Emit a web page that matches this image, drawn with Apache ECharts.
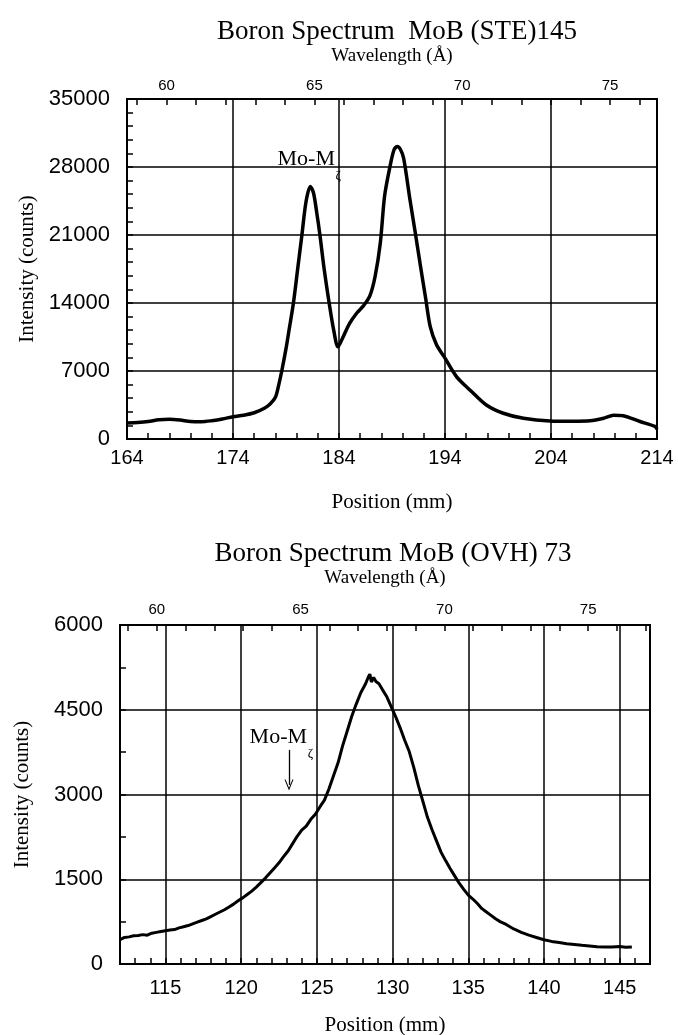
<!DOCTYPE html>
<html>
<head>
<meta charset="utf-8">
<title>Boron Spectrum MoB</title>
<script src="https://cdn.jsdelivr.net/npm/echarts@6/dist/echarts.min.js"></script>
<style>
	html, body { margin: 0; padding: 0; background: #fff; }
	#boronChart { width: 678px; height: 1035px; }
</style>
</head>
<body>
<div id="boronChart"></div>
<script>
// MoB (STE)145 - position (mm) / intensity (counts)
var stePos = [164, 165, 166, 167, 168, 169, 170, 171, 172, 173, 174, 175, 176, 177, 177.5, 178, 178.3, 178.6, 179, 179.3, 179.7, 180.1, 180.5, 180.9, 181.3, 181.6, 181.9, 182.2, 182.6, 183.1, 183.5, 183.9, 184.3, 185, 185.7, 186.3, 186.9, 187.4, 187.9, 188.3, 188.8, 189.2, 189.5, 189.8, 190.1, 190.7, 191.2, 191.7, 192.2, 192.6, 193.2, 193.9, 195.1, 196.4, 197.9, 199.5, 201.4, 203.9, 206, 207.7, 209, 209.9, 210.8, 212.4, 213.8, 214];
var steCounts = [1650, 1700, 1800, 1980, 2030, 1950, 1800, 1780, 1880, 2050, 2300, 2450, 2700, 3200, 3600, 4300, 5500, 7000, 9300, 11300, 14000, 17500, 21000, 24500, 26000, 25300, 23300, 21000, 17500, 13800, 11200, 9500, 10300, 11900, 13000, 13700, 14700, 16700, 20200, 25000, 28000, 29800, 30100, 29800, 28900, 24600, 21200, 17700, 14300, 11600, 9700, 8500, 6400, 5000, 3500, 2650, 2130, 1850, 1820, 1870, 2150, 2450, 2400, 1800, 1300, 1000];

// MoB (OVH) 73
var ovhPos = [112, 112.3, 112.6, 112.9, 113.2, 113.5, 113.8, 114.1, 114.4, 114.7, 115, 115.3, 115.6, 115.9, 116.2, 116.5, 116.8, 117.1, 117.4, 117.7, 118, 118.3, 118.6, 118.9, 119.2, 119.5, 119.8, 120.1, 120.4, 120.7, 121, 121.3, 121.6, 121.9, 122.2, 122.5, 122.8, 123.1, 123.4, 123.7, 124, 124.3, 124.6, 124.9, 125.2, 125.5, 125.8, 126.1, 126.4, 126.7, 127, 127.3, 127.6, 127.9, 128.2, 128.4, 128.5, 128.6, 128.75, 128.9, 129.1, 129.3, 129.6, 129.9, 130.2, 130.5, 130.8, 131.1, 131.4, 131.7, 132, 132.3, 132.6, 132.9, 133.2, 133.5, 133.8, 134.1, 134.4, 134.7, 135, 135.3, 135.6, 135.9, 136.2, 136.5, 136.8, 137.1, 137.5, 138, 138.5, 139, 139.5, 140, 140.5, 141, 141.5, 142, 142.5, 143, 143.5, 144, 144.5, 145, 145.4, 145.8];
var ovhCounts = [430, 470, 480, 500, 505, 520, 510, 545, 560, 575, 590, 600, 610, 640, 660, 680, 710, 740, 770, 800, 840, 880, 920, 960, 1010, 1060, 1120, 1170, 1230, 1290, 1360, 1440, 1520, 1610, 1700, 1790, 1900, 2000, 2130, 2260, 2370, 2440, 2560, 2650, 2780, 2900, 3100, 3330, 3560, 3860, 4120, 4380, 4600, 4800, 4950, 5080, 5130, 4990, 5070, 5000, 4960, 4870, 4740, 4560, 4380, 4180, 3960, 3760, 3480, 3160, 2880, 2600, 2380, 2180, 1980, 1830, 1690, 1560, 1430, 1320, 1220, 1150, 1070, 980, 920, 860, 800, 750, 700, 620, 560, 510, 470, 430, 400, 380, 360, 345, 330, 320, 305, 300, 300, 310, 295, 300];

// tick labels
var stePosTicks = [164, 174, 184, 194, 204, 214];
var ovhPosTicks = [115, 120, 125, 130, 135, 140, 145];
var waveLabels = [60, 65, 70, 75];
var steWaveTicks = [59, 60, 61, 62, 63, 64, 65, 66, 67, 68, 69, 70, 71, 72, 73, 74, 75, 76];
var ovhWaveTicks = [59, 60, 61, 62, 63, 64, 65, 66, 67, 68, 69, 70, 71, 72, 73, 74, 75, 76, 77];

var SANS = "'Liberation Sans', Arial, sans-serif";
var SERIF = "'Liberation Serif', 'Times New Roman', serif";

function makeData(pos, counts) {
	var arr = [];
	for (var i = 0; i < pos.length; i++) {
		arr.push([pos[i], counts[i]]);
	}
	return arr;
}

function plain(v) {
	return String(v);
}

function posAxis(grid, min, max, ticks, margin, gap) {
	return {
		type: 'value', gridIndex: grid, position: 'bottom', min: min, max: max,
		axisLine: { show: true, onZero: false, lineStyle: { color: '#000', width: 2 } },
		axisTick: { show: false, customValues: ticks },
		axisLabel: { customValues: ticks, formatter: plain, color: '#000', fontFamily: SANS, fontSize: 20, margin: margin },
		splitLine: { show: true, lineStyle: { color: '#000', width: 1.5 } },
		name: 'Position (mm)', nameLocation: 'middle', nameGap: gap,
		nameTextStyle: { color: '#000', fontFamily: SERIF, fontSize: 21 }
	};
}

function minorAxis(grid, min, max, step) {
	return {
		type: 'value', gridIndex: grid, position: 'bottom', min: min, max: max, interval: step,
		axisLine: { show: false, onZero: false },
		axisTick: { show: true, inside: true, length: 6, lineStyle: { color: '#000', width: 1.5 } },
		axisLabel: { show: false },
		splitLine: { show: false }
	};
}

function waveAxis(grid, min, max, ticks, margin, gap) {
	return {
		type: 'value', gridIndex: grid, position: 'top', min: min, max: max,
		axisLine: { show: true, onZero: false, lineStyle: { color: '#000', width: 2 } },
		axisTick: { show: true, inside: true, length: 6, customValues: ticks, lineStyle: { color: '#000', width: 1.5 } },
		axisLabel: { customValues: waveLabels, formatter: plain, color: '#000', fontFamily: SANS, fontSize: 15, margin: margin },
		splitLine: { show: false },
		name: 'Wavelength (Å)', nameLocation: 'middle', nameGap: gap,
		nameTextStyle: { color: '#000', fontFamily: SERIF, fontSize: 19 }
	};
}

function countAxis(grid, max, step, minorSplit, gap) {
	return {
		type: 'value', gridIndex: grid, min: 0, max: max, interval: step,
		axisLine: { show: true, lineStyle: { color: '#000', width: 2 } },
		axisTick: { show: true, inside: true, length: 6, lineStyle: { color: '#000', width: 1.5 } },
		minorTick: { show: true, splitNumber: minorSplit, length: 6, lineStyle: { color: '#000', width: 1.5 } },
		axisLabel: { formatter: plain, color: '#000', fontFamily: SANS, fontSize: 22, margin: 17 },
		splitLine: { show: true, lineStyle: { color: '#000', width: 1.5 } },
		name: 'Intensity (counts)', nameLocation: 'middle', nameGap: gap,
		nameTextStyle: { color: '#000', fontFamily: SERIF, fontSize: 21 }
	};
}

function moLabel(x, y, xs, ys) {
	return [
		{ coord: [x, y], label: { show: true, formatter: 'Mo-M', position: [0, 0], align: 'right', verticalAlign: 'bottom',
			color: '#000', fontFamily: SERIF, fontSize: 22 } },
		{ coord: [xs, ys], label: { show: true, formatter: 'ζ', position: [0, 0], align: 'left', verticalAlign: 'middle',
			color: '#000', fontFamily: SERIF, fontSize: 13 } }
	];
}

var chart = echarts.init(document.getElementById('boronChart'), null, { renderer: 'canvas' });

chart.setOption({
	animation: false,
	backgroundColor: '#fff',
	title: [
		{ text: 'Boron Spectrum  MoB (STE)145', left: 392, top: 13, textAlign: 'center',
		  textStyle: { color: '#000', fontFamily: SERIF, fontWeight: 'normal', fontSize: 27 } },
		{ text: 'Boron Spectrum MoB (OVH) 73', left: 388, top: 535, textAlign: 'center',
		  textStyle: { color: '#000', fontFamily: SERIF, fontWeight: 'normal', fontSize: 27 } }
	],
	grid: [
		{ left: 127, top: 99, width: 530, height: 340, show: true, borderColor: '#000', borderWidth: 2, outerBoundsMode: 'none' },
		{ left: 120, top: 625, width: 530, height: 339, show: true, borderColor: '#000', borderWidth: 2, outerBoundsMode: 'none' }
	],
	xAxis: [
		posAxis(0, 164, 214, stePosTicks, 9, 53),
		minorAxis(0, 164, 214, 2),
		waveAxis(0, 58.66, 76.59, steWaveTicks, 6, 33),
		posAxis(1, 112, 147, ovhPosTicks, 14, 51),
		minorAxis(1, 112, 147, 1),
		waveAxis(1, 58.72, 77.15, ovhWaveTicks, 8, 37)
	],
	yAxis: [
		countAxis(0, 35000, 7000, 5, 89),
		countAxis(1, 6000, 1500, 2, 87)
	],
	series: [
		{
			name: 'MoB (STE)145',
			type: 'line',
			xAxisIndex: 0,
			yAxisIndex: 0,
			showSymbol: false,
			smooth: 0.3,
			lineStyle: { color: '#000', width: 3.5 },
			data: makeData(stePos, steCounts),
			markPoint: {
				symbol: 'circle',
				symbolSize: 0,
				silent: true,
				data: moLabel(183.62, 27700, 183.66, 27100)
			}
		},
		{
			name: 'MoB (OVH) 73',
			type: 'line',
			xAxisIndex: 3,
			yAxisIndex: 1,
			showSymbol: false,
			lineStyle: { color: '#000', width: 3 },
			data: makeData(ovhPos, ovhCounts),
			markPoint: {
				symbol: 'circle',
				symbolSize: 0,
				silent: true,
				data: moLabel(124.35, 3820, 124.4, 3730)
			},
			markLine: {
				silent: true,
				symbol: ['none', 'path://M5,0 L10,10 L8.8,10 L5,2.4 L1.2,10 L0,10 Z'],
				symbolSize: [9, 11],
				label: { show: false },
				lineStyle: { color: '#000', width: 1.3, type: 'solid' },
				data: [
					[{ coord: [123.16, 3790] }, { coord: [123.16, 3170] }]
				]
			}
		}
	]
});
</script>
</body>
</html>
